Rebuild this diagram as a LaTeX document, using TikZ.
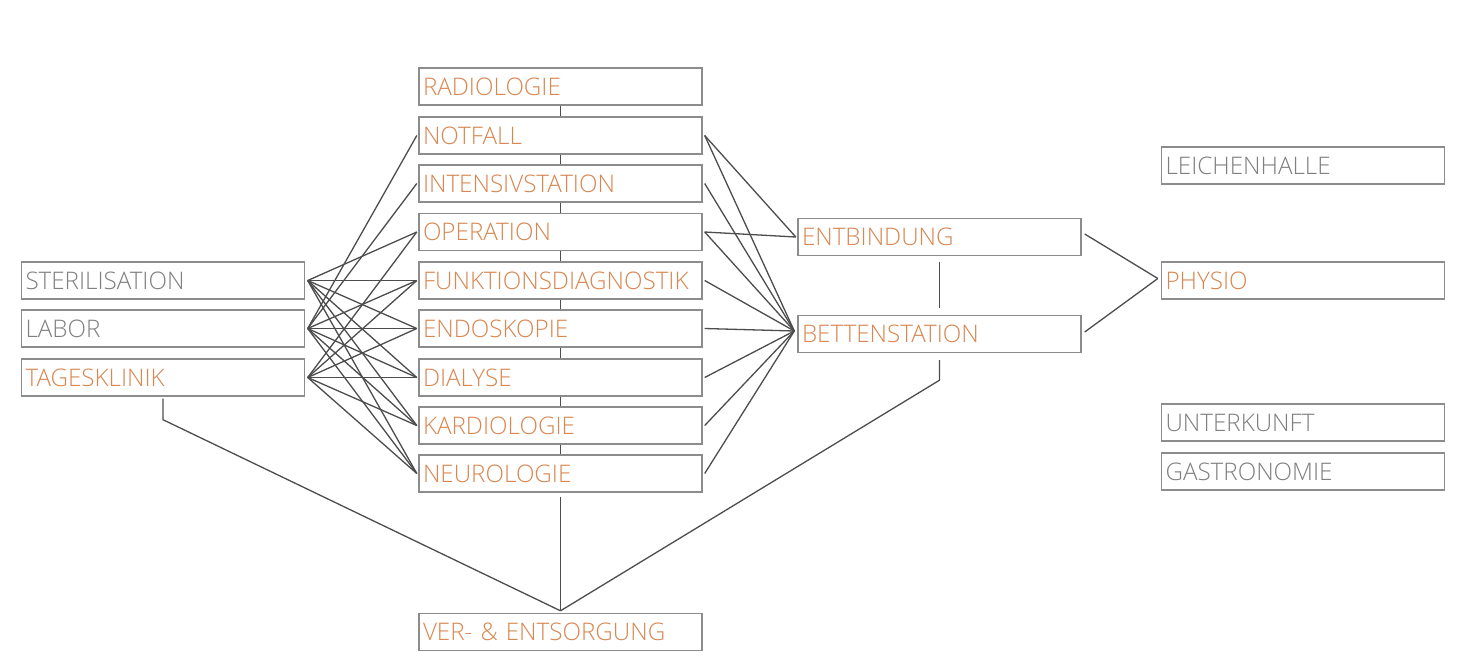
\documentclass[tikz,border=0pt]{standalone}
\usepackage{fontspec}
\setmainfont{Open Sans Light}
\usetikzlibrary{calc}
\definecolor{orng}{HTML}{D98650}
\definecolor{txtgray}{HTML}{7F7F7F}
\definecolor{boxgray}{HTML}{8C8C8C}
\definecolor{linegray}{HTML}{4D4D4D}
\begin{document}
\begin{tikzpicture}[x=1pt,y=-1pt,
  box/.style={draw=boxgray, line width=1.4pt, minimum width=283pt, minimum height=37pt,
    text width=275pt, inner xsep=4pt, inner ysep=0pt, align=left,
    font=\fontsize{24.2}{25}\selectfont, anchor=center},
  ob/.style={box, text=orng},
  gb/.style={box, text=txtgray},
  conn/.style={draw=linegray, line width=1.3pt}]
\useasboundingbox (0,0) rectangle (1464,659);
\fill[white] (0,0) rectangle (1464,659);
% left column
\node[gb] (st) at (163,280.5) {STERILISATION};
\node[gb] (la) at (163,328.5) {LABOR};
\node[ob] (tk) at (163,377.5) {TAGESKLINIK};
% middle column
\node[ob] (ra) at (560.5,86.5) {RADIOLOGIE};
\node[ob] (nf) at (560.5,135.5) {NOTFALL};
\node[ob] (is) at (560.5,183.5) {INTENSIVSTATION};
\node[ob] (op) at (560.5,232) {OPERATION};
\node[ob] (fd) at (560.5,280.5) {FUNKTIONSDIAGNOSTIK};
\node[ob] (en) at (560.5,328.5) {ENDOSKOPIE};
\node[ob] (di) at (560.5,377.5) {DIALYSE};
\node[ob] (ka) at (560.5,425.5) {KARDIOLOGIE};
\node[ob] (ne) at (560.5,473.5) {NEUROLOGIE};
\node[ob] (ve) at (560.5,632) {VER- \& ENTSORGUNG};
% right-middle
\node[ob] (eb) at (939.5,237) {ENTBINDUNG};
\node[ob] (bs) at (939.5,334) {BETTENSTATION};
% right column
\node[gb] (lh) at (1303,165.5) {LEICHENHALLE};
\node[ob] (ph) at (1303,280.5) {PHYSIO};
\node[gb] (uk) at (1303,422.5) {UNTERKUNFT};
\node[gb] (ga) at (1303,471.5) {GASTRONOMIE};
% vertical connectors in middle column
\foreach \a/\b in {ra/nf,nf/is,is/op,op/fd,fd/en,en/di,di/ka,ka/ne}
  \draw[conn] (\a.south) -- (\b.north);
\coordinate (vj) at ([yshift=2pt]ve.north);
\draw[conn] ([yshift=-4pt]ne.south) -- (vj);
% left fan
\foreach \l/\m in {st/op,st/fd,st/en,st/di,st/ka,st/ne,
                   la/nf,la/is,la/fd,la/en,la/di,la/ka,la/ne,
                   tk/op,tk/fd,tk/en,tk/di,tk/ka,tk/ne}
  \draw[conn] ([xshift=2.5pt]\l.east) -- ([xshift=-1.5pt]\m.west);
% right fan
\draw[conn] ([xshift=2pt]nf.east) -- ([xshift=-1.5pt]eb.west);
\draw[conn] ([xshift=2pt]op.east) -- ([xshift=-1.5pt]eb.west);
\coordinate (bw) at ([xshift=-3pt,yshift=3pt]bs.west);
\foreach \m in {nf,is,op,fd,en,di,ka,ne}
  \draw[conn] ([xshift=2pt]\m.east) -- (bw);
% entbindung - bettenstation
\draw[conn] ([yshift=-6pt]eb.south) -- ([yshift=7pt]bs.north);
% to physio
\coordinate (pw) at ([xshift=-3pt,yshift=2pt]ph.west);
\draw[conn] ([xshift=3pt,yshift=3pt]eb.east) -- (pw);
\draw[conn] ([xshift=3pt,yshift=2pt]bs.east) -- (pw);
% to ver & entsorgung
\coordinate (bk) at ([yshift=-27pt]bs.south);
\draw[conn] ([yshift=-7pt]bs.south) -- (bk) -- (vj);
\coordinate (tkk) at ([yshift=-23pt]tk.south);
\draw[conn] ([yshift=-2pt]tk.south) -- (tkk) -- (vj);
\end{tikzpicture}
\end{document}
